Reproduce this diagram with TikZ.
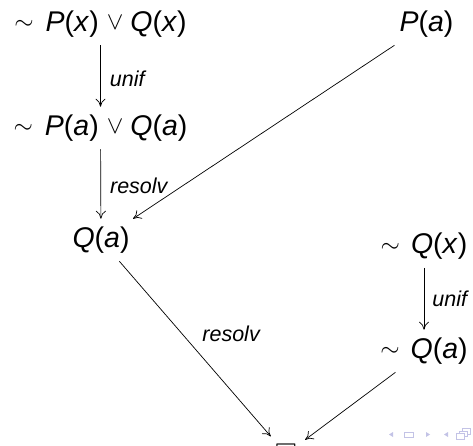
\documentclass[tikz,border=0pt]{standalone}
\usepackage{amssymb}
\usepackage{fontspec}
\setmainfont{Liberation Sans}
\usetikzlibrary{arrows.meta}
\definecolor{navc}{RGB}{195,195,230}
\newcommand\sym[1]{{\fontsize{27}{27}\selectfont\raisebox{1.5pt}{$#1$}}}
\newcommand\ivar[1]{\textit{#1}}
\tikzset{
  formula/.style={inner sep=0pt, outer sep=8pt, font=\fontsize{28.5}{30}\selectfont},
  conn/.style={-{To[length=8pt,width=10pt]}, line width=0.7pt},
  lab/.style={font=\fontsize{21.5}{23}\selectfont\itshape, inner sep=0pt}
}
\begin{document}
\begin{tikzpicture}[x=1pt,y=-1pt]
\useasboundingbox (0,0) rectangle (473,446);
\node[formula] (A) at (100.5,24) {\sym{\sim}\hspace{12pt}\ivar{P}(\ivar{x})\hspace{8pt}\sym{\vee}\hspace{7pt}\ivar{Q}(\ivar{x})};
\node[formula] (B) at (426.5,24) {\ivar{P}(\ivar{a})};
\node[formula] (C) at (100.5,128) {\sym{\sim}\hspace{12pt}\ivar{P}(\ivar{a})\hspace{8pt}\sym{\vee}\hspace{7pt}\ivar{Q}(\ivar{a})};
\node[formula] (D) at (101,240) {\ivar{Q}(\ivar{a})};
\node[formula] (E) at (424,246.5) {\sym{\sim}\hspace{11pt}\ivar{Q}(\ivar{x})};
\node[formula] (F) at (424,351) {\sym{\sim}\hspace{11pt}\ivar{Q}(\ivar{a})};
\node[formula] (G) at (286,454) {$\square$};

\draw[conn] (A) -- node[lab, midway, anchor=west, xshift=9pt, yshift=-3pt] {unif} (C);
\draw[conn] (C) -- node[lab, midway, anchor=west, xshift=9pt, yshift=-2pt] {resolv} (D);
\draw[conn] (B) -- (D);
\draw[conn] (E) -- node[lab, midway, anchor=west, xshift=8pt] {unif} (F);
\draw[conn] (D) -- node[lab, midway, anchor=south west, xshift=7pt, yshift=7pt] {resolv} (G);
\draw[conn] (F) -- (G);

% navigation symbols
\fill[navc] (393,432) -- (393,437) -- (389,434.5) -- cycle;
\draw[navc, line width=1pt] (404.5,432) rectangle (413.5,437);
\fill[navc] (426,432) -- (426,437) -- (430,434.5) -- cycle;
\fill[navc] (448,432) -- (448,437) -- (444,434.5) -- cycle;
\draw[navc, line width=1pt, fill=white] (462,428.5) rectangle (470.5,434.5);
\draw[navc, line width=1pt, fill=white] (459,431) rectangle (467.5,436.5);
\draw[navc, line width=1pt, fill=white] (456,433.5) rectangle (464.5,439);
\end{tikzpicture}
\end{document}
